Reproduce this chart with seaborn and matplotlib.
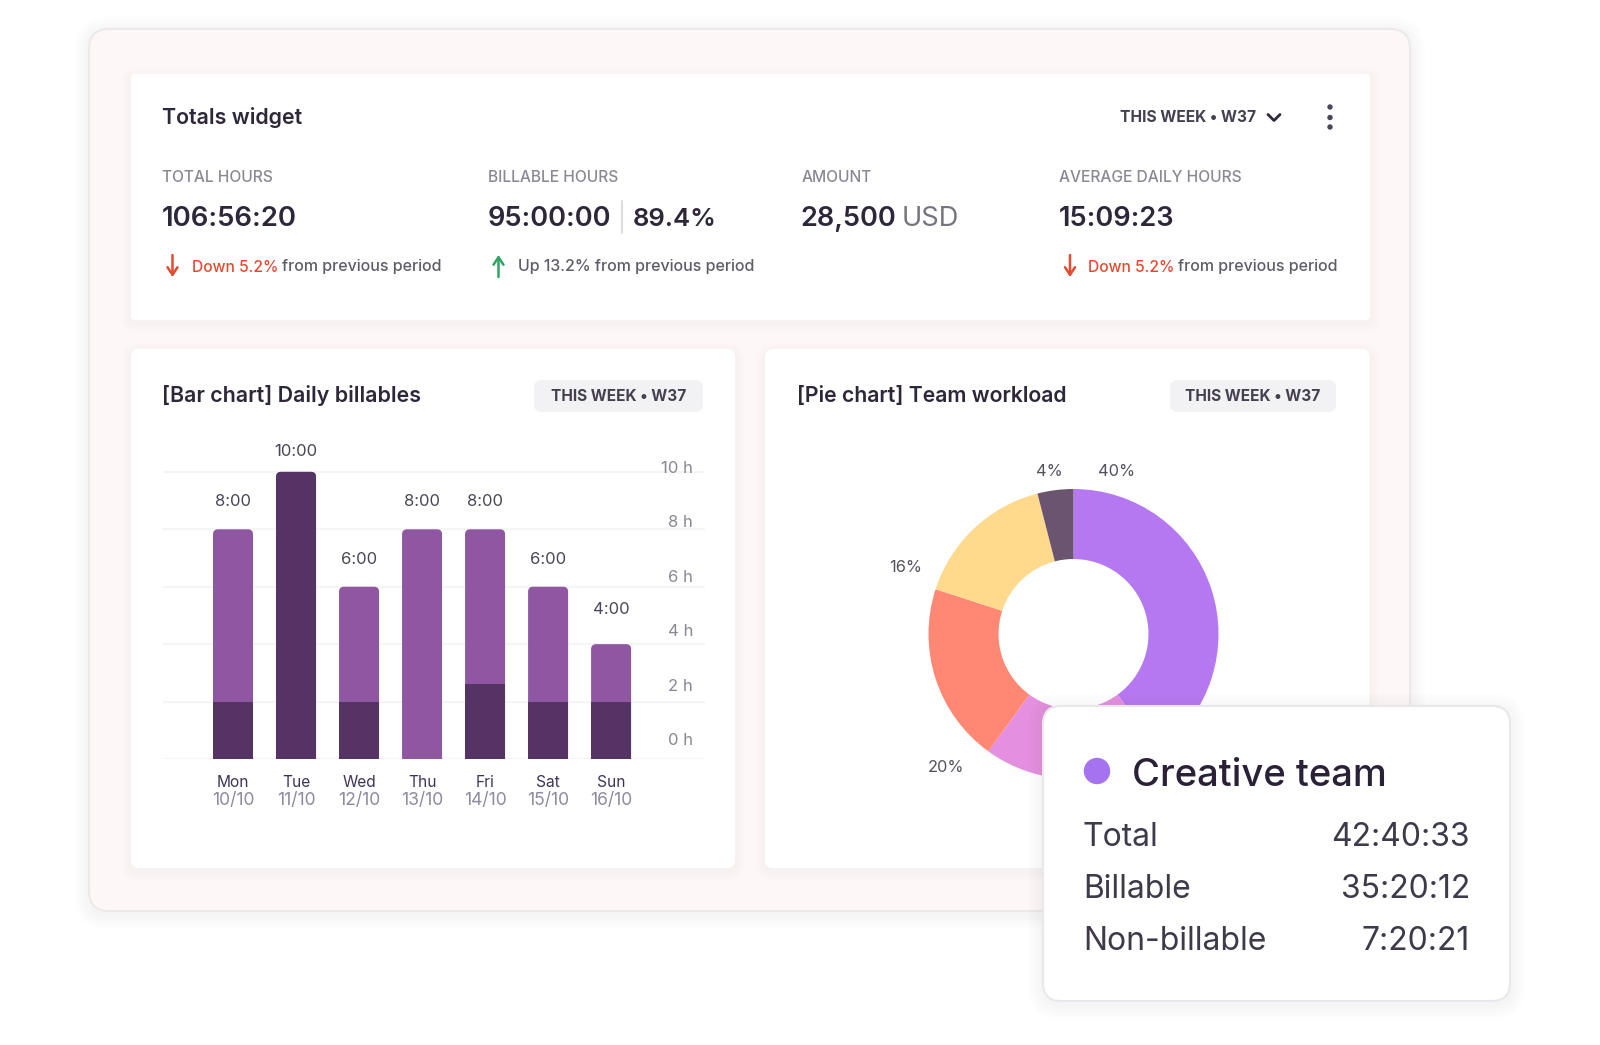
import matplotlib
matplotlib.use('Agg')
import matplotlib.pyplot as plt
from matplotlib.patches import FancyBboxPatch, Circle
import seaborn as sns

W, H = 1600, 1045

days = ['Mon', 'Tue', 'Wed', 'Thu', 'Fri', 'Sat', 'Sun']
dates = ['10/10', '11/10', '12/10', '13/10', '14/10', '15/10', '16/10']
day_totals = [8, 10, 6, 8, 8, 6, 4]
day_dark = [2, 10, 2, 0, 2.6, 2, 2]
day_labels = ['8:00', '10:00', '6:00', '8:00', '8:00', '6:00', '4:00']
hour_ticks = [0, 2, 4, 6, 8, 10]

team_share = [40, 20, 20, 16, 4]
team_colors = ['#B678F0', '#E48FDF', '#FF8875', '#FFD98C', '#6B5470']

tooltip_rows = ['Total', 'Billable', 'Non-billable']
tooltip_times = ['42:40:33', '35:20:12', '7:20:21']

INK = '#2E2739'
GREY = '#8B8794'
BODY = '#5F5B69'
RED = '#E5492F'
GREEN = '#2FA565'

sns.set_theme(style='white')
plt.rcParams['font.family'] = ['Inter', 'DejaVu Sans']

fig = plt.figure(figsize=(W / 100, H / 100), dpi=100, facecolor='white')


def px_axes(x0, y0, x1, y1, z):
    return fig.add_axes([x0 / W, 1 - y1 / H, (x1 - x0) / W, (y1 - y0) / H], zorder=z)


def overlay(z):
    a = fig.add_axes([0, 0, 1, 1], zorder=z)
    a.set_xlim(0, W)
    a.set_ylim(H, 0)
    a.axis('off')
    return a


def card(a, x0, y0, x1, y1, r, fc, ec='none', shadow=0):
    # soft shadow is just a few see-through boxes stacked up
    for i in range(shadow, 0, -1):
        grow = i * 3
        a.add_patch(FancyBboxPatch((x0 - grow, y0 - grow + 3), x1 - x0 + 2 * grow, y1 - y0 + 2 * grow,
                                   boxstyle='round,pad=0,rounding_size=%d' % (r + grow),
                                   fc='#3A2A50', ec='none', alpha=0.008))
    a.add_patch(FancyBboxPatch((x0, y0), x1 - x0, y1 - y0,
                               boxstyle='round,pad=0,rounding_size=%d' % r,
                               fc=fc, ec=ec, lw=1.5))


def label(a, x, y, s, size, color=INK, weight='normal', ha='left'):
    return a.text(x, y, s, fontsize=size, color=color, fontweight=weight, ha=ha, va='center')


back = overlay(0)
card(back, 89, 29, 1410, 911, 20, '#FDF8F7', '#ECE9E9', shadow=5)
card(back, 131, 74, 1370, 320, 4, 'white', shadow=3)
card(back, 131, 349, 735, 868, 8, 'white', shadow=3)
card(back, 765, 349, 1369.5, 868, 8, 'white', shadow=3)

# totals widget
label(back, 162.5, 117, 'Totals widget', 15.4, INK, 'semibold')
label(back, 1119.5, 118, 'THIS WEEK • W37', 11.2, '#45404F', 'bold')
back.plot([1268, 1274, 1280], [114.5, 120.5, 114.5], color=INK, lw=2, solid_capstyle='round')
for y in [107, 117.5, 127]:
    back.add_patch(Circle((1330, y), 2, color='#4A4558'))

label(back, 162.5, 177, 'TOTAL HOURS', 11.2, GREY, 'medium')
label(back, 488, 177, 'BILLABLE HOURS', 11.2, GREY, 'medium')
label(back, 801.5, 177, 'AMOUNT', 11.2, GREY, 'medium')
label(back, 1059, 177, 'AVERAGE DAILY HOURS', 11.2, GREY, 'medium')

label(back, 161.5, 219, '106:56:20', 19.8, INK, 'semibold')
label(back, 488, 219, '95:00:00', 19.6, INK, 'semibold')
back.plot([622, 622], [201, 233], color='#DEDCE0', lw=1.5)
label(back, 633, 219, '89.4%', 18.5, INK, 'semibold')
label(back, 800, 219, '28,500', 19.6, INK, 'semibold')
label(back, 902, 219, 'USD', 19.6, '#77737F')
label(back, 1059, 219, '15:09:23', 19.6, INK, 'semibold')


def delta(x, text_x, rest_x, word, rest, color, up):
    start, end = (277, 255) if up else (255, 277)
    back.annotate('', xy=(x, end), xytext=(x, start),
                  arrowprops=dict(arrowstyle='->,head_width=0.3,head_length=0.45', color=color, lw=1.8,
                                  shrinkA=0, shrinkB=0))
    if word:
        label(back, text_x, 267, word, 11.2, color, 'medium')
    label(back, rest_x, 267, rest, 11.5, BODY, 'medium')


delta(172.5, 192, 281.5, 'Down 5.2%', 'from previous period', RED, False)
delta(498.5, 0, 518, '', 'Up 13.2% from previous period', GREEN, True)
delta(1070, 1088.5, 1178.5, 'Down 5.2%', 'from previous period', RED, False)

# card headers
label(back, 162.5, 396, '[Bar chart] Daily billables', 15.4, INK, 'semibold')
label(back, 797, 396, '[Pie chart] Team workload', 15.3, INK, 'semibold')
for x0, x1 in [(534, 703), (1170, 1336)]:
    card(back, x0, 380, x1, 412, 8, '#F2F2F4')
    label(back, (x0 + x1) / 2, 396.5, 'THIS WEEK • W37', 11.1, '#45404F', 'bold', ha='center')

# bars, one hour is 28.7 px and one day slot 63 px
ax = px_axes(162.5, 440, 705, 759, 1)
ax.patch.set_alpha(0)
sns.barplot(x=days, y=day_totals, color='#8F56A1', saturation=1, width=0.635, linewidth=0, ax=ax)
sns.barplot(x=days, y=day_dark, color='#553465', saturation=1, width=0.635, linewidth=0, ax=ax)
ax.set_xlim(-1.119, 7.49)
ax.set_ylim(0, 11.11)

# swap the plain bars for ones with rounded tops where the bar ends
n = len(days)
for i, p in enumerate(ax.patches[:2 * n]):
    total = day_totals[i % n]
    if p.get_height() == 0:
        p.set_visible(False)
    elif p.get_height() == total:
        ax.add_patch(FancyBboxPatch((p.get_x(), -0.3), p.get_width(), total + 0.3,
                                    boxstyle='round,pad=0,rounding_size=0.08', mutation_aspect=63 / 28.7,
                                    fc=p.get_facecolor(), ec='none', zorder=2 if i >= n else 1))
        p.set_visible(False)
    else:
        p.set_zorder(2)

ax.set_yticks(hour_ticks)
ax.set_yticklabels([])
ax.yaxis.grid(True, color='#F6F5F6', lw=1.5)
ax.set_axisbelow(True)
ax.xaxis.grid(False)
ax.set_ylabel('')
sns.despine(ax=ax, left=True, bottom=True)
ax.tick_params(axis='x', length=0, pad=11.5, labelsize=11.2, labelcolor='#3D3356')
ax.tick_params(axis='y', length=0)
lifts = [20, 13, 20, 20, 20, 20, 27]
for i, (v, s, lift) in enumerate(zip(day_totals, day_labels, lifts)):
    ax.annotate(s, xy=(i, v), xytext=(0, lift * 0.72), textcoords='offset points',
                ha='center', va='bottom', fontsize=12, color='#4A4656')
for i, s in enumerate(dates):
    ax.annotate(s, xy=(i, 0), xycoords=ax.get_xaxis_transform(), xytext=(0, -41.5 * 0.72),
                textcoords='offset points', ha='center', va='center', fontsize=12.6, color='#8E8A9F')

# hour labels sit on their own scale, they drift from the gridlines
ax2 = ax.twinx()
ax2.set_ylim(-0.72, 10.98)
ax2.set_yticks(hour_ticks)
ax2.set_yticklabels(['%d h' % h for h in hour_ticks], ha='right')
ax2.grid(False)
ax2.tick_params(axis='y', length=0, pad=-8.5, labelsize=12, labelcolor='#8B8794')
sns.despine(ax=ax2, left=True, bottom=True, right=True)

# donut
pie_ax = px_axes(928.5, 489, 1218.5, 779, 1)
pie_ax.pie(team_share, colors=team_colors, startangle=90, counterclock=False, radius=1,
           wedgeprops=dict(width=0.483, linewidth=0))
pie_ax.set_xlim(-1, 1)
pie_ax.set_ylim(-1, 1)
label(back, 1116.5, 471, '40%', 11.8, '#55505F', ha='center')
label(back, 1049, 471, '4%', 11.8, '#55505F', ha='center')
label(back, 906, 567, '16%', 11.8, '#55505F', ha='center')
label(back, 946, 767, '20%', 11.8, '#55505F', ha='center')

# tooltip on top of everything
top = overlay(3)
card(top, 1043, 706, 1510, 1001, 18, 'white', '#E9E7EB', shadow=5)
top.add_patch(Circle((1097, 771), 12.5, color='#A573F0'))
label(top, 1132, 776, 'Creative team', 27.5, '#2A2138', 'medium')
for y, name, t in zip([838, 890, 942], tooltip_rows, tooltip_times):
    label(top, 1083, y, name, 23, '#3F3A4A')
    label(top, 1470, y, t, 23, '#3F3A4A', ha='right')

fig.savefig('out.png', dpi=100, facecolor='white')
